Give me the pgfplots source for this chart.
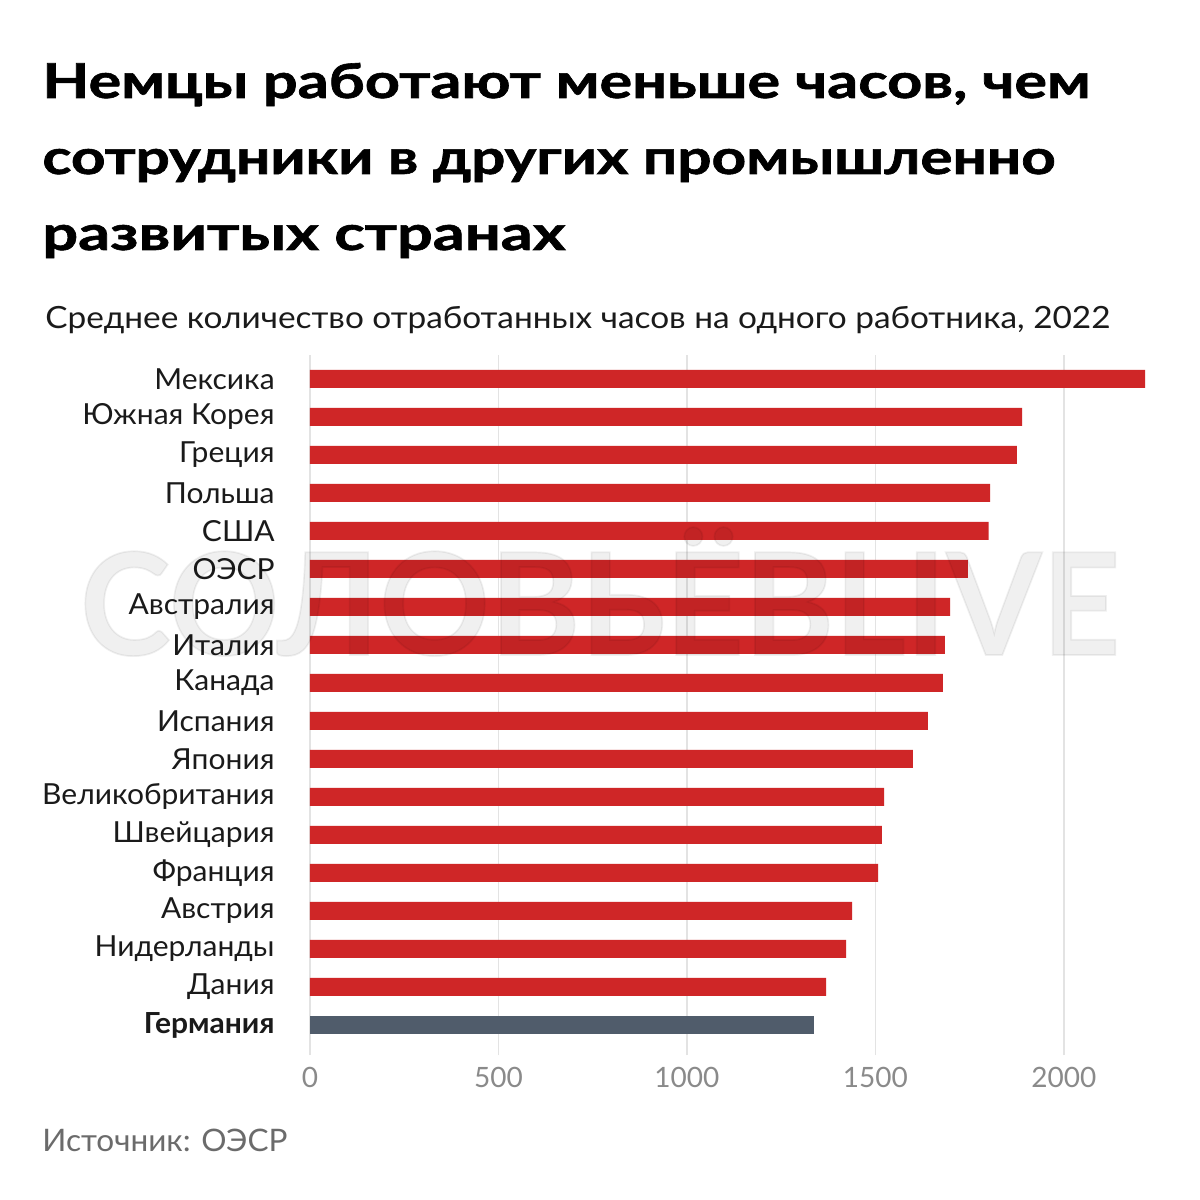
\documentclass[border=0pt]{standalone}
\usepackage{fontspec}
\setmainfont{Lato}
\newfontfamily\titlefont[BoldFeatures={FakeBold=1.2}]{Lato}
\newfontfamily\labfont[FakeStretch=1.035]{Lato}
\usepackage{graphicx}
\usepackage{pgfplots}
\pgfplotsset{compat=1.18}
\definecolor{barred}{HTML}{CF2627}
\definecolor{barslate}{HTML}{505C6B}
\definecolor{gridc}{HTML}{E3E3E3}
\definecolor{tickc}{HTML}{8A8A8A}
\definecolor{srcc}{HTML}{6B6B6B}
\definecolor{labc}{HTML}{1A1A1A}
\begin{document}
\begin{tikzpicture}
\path[fill=white,use as bounding box] (0,0) rectangle (600pt,600pt);
% title
\node[anchor=base west,inner sep=0] at (21pt,551pt) {\resizebox{524pt}{\height}{\fontsize{24pt}{28pt}\titlefont\bfseries Немцы работают меньше часов, чем}};
\node[anchor=base west,inner sep=0] at (21pt,513pt) {\resizebox{506.5pt}{\height}{\fontsize{24pt}{28pt}\titlefont\bfseries сотрудники в других промышленно}};
\node[anchor=base west,inner sep=0] at (21pt,475pt) {\resizebox{261.5pt}{\height}{\fontsize{24pt}{28pt}\titlefont\bfseries развитых странах}};
% subtitle
\node[anchor=base west,inner sep=0,text=labc] at (22.5pt,435.5pt) {\resizebox{532.5pt}{\height}{\fontsize{15.3pt}{18pt}\selectfont Среднее количество отработанных часов на одного работника, 2022}};
% source
\node[anchor=base west,inner sep=0,text=srcc] at (21pt,24pt) {\resizebox{122.5pt}{\height}{\fontsize{15.5pt}{18pt}\selectfont Источник: ОЭСР}};
\begin{axis}[
  at={(155pt,72.5pt)}, anchor=south west,
  scale only axis, width=417.5pt, height=350pt,
  xmin=0, xmax=2215, ymin=-0.79, ymax=17.63,
  xbar, bar width=9pt,
  axis line style={draw=none},
  major tick length=0pt,
  xtick={0,500,1000,1500,2000},
  xmajorgrids, grid style={color=gridc,line width=0.9pt},
  ytick={0,...,17},
  yticklabels={{\bfseries Германия},Дания,Нидерланды,Австрия,Франция,Швейцария,Великобритания,Япония,Испания,Канада,Италия,Австралия,ОЭСР,США,Польша,Греция,Южная Корея,Мексика},
  yticklabel style={font=\fontsize{14.5pt}{17pt}\labfont,text=labc,inner sep=0pt,xshift=-17.5pt},
  xticklabel style={font=\fontsize{14pt}{17pt}\selectfont,text=tickc,inner sep=0pt,yshift=-6pt},
  /pgf/number format/assume math mode=true,
  /pgf/number format/1000 sep={},
  clip=false,
]
\addplot[draw=none,fill=barred,bar shift=0pt] coordinates {
(1369,1) (1422,2) (1438,3) (1507,4) (1517,5) (1523,6) (1599,7) (1639,8) (1679,9) (1684,10) (1698,11) (1745,12) (1800,13) (1804,14) (1875,15) (1889,16) (2215,17)};
\addplot[draw=none,fill=barslate,bar shift=0pt] coordinates {(1337,0)};
\end{axis}
% watermark
\node[anchor=base,inner sep=0,text=black,opacity=0.06] at (300pt,272.5pt) {\resizebox{520pt}{\height}{\fontsize{71pt}{80pt}\titlefont\bfseries СОЛОВЬЁВLIVE}};
\end{tikzpicture}
\end{document}
